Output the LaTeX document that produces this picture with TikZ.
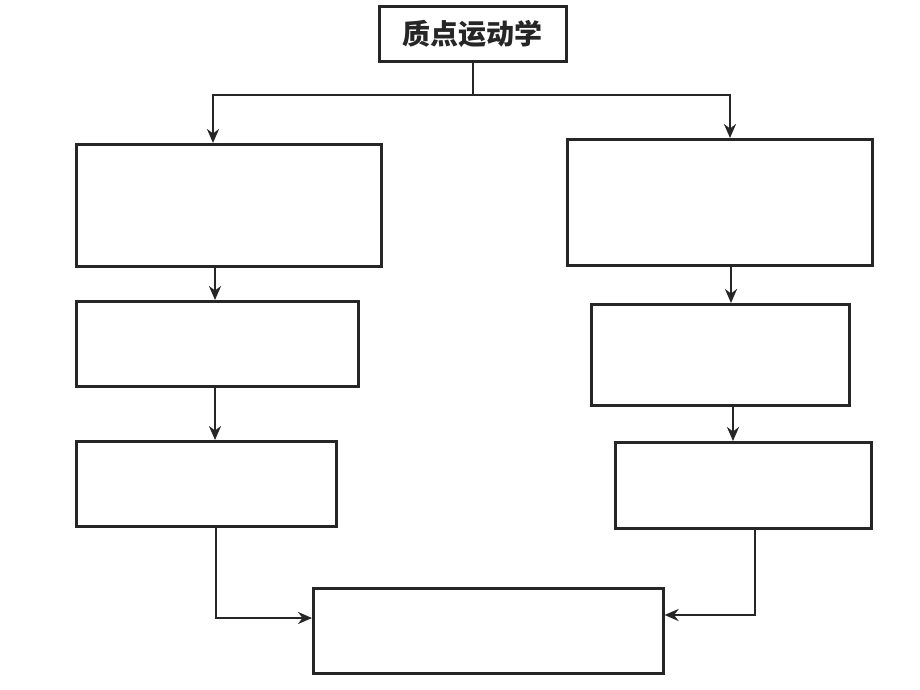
\documentclass[tikz,border=0pt]{standalone}
\usepackage{fontspec}
\newfontfamily\cjk{Noto Sans CJK SC}
\usetikzlibrary{arrows.meta}
\definecolor{ink}{HTML}{262626}
\begin{document}
\begin{tikzpicture}[x=1pt,y=-1pt,
  box/.style={draw=ink, line width=2.6pt, rectangle, inner sep=0pt, anchor=north west},
  ln/.style={draw=ink, line width=2.6pt},
  arr/.style={draw=ink, line width=2.6pt, -{Stealth[length=14pt,width=12pt]}}]
\fill[white] (0,0) rectangle (920,690);
\useasboundingbox (0,0) rectangle (920,690);
% boxes
\node[box, minimum width=187pt, minimum height=55pt] (T) at (378,5) {};
\node[font=\cjk\bfseries\fontsize{28}{32}\selectfont, text=ink] (Tt) at (T.center) {质点运动学};
\node[box, minimum width=305pt, minimum height=122pt] (L1) at (75,143) {};
\node[box, minimum width=282pt, minimum height=85pt]  (L2) at (75,300) {};
\node[box, minimum width=260pt, minimum height=85pt]  (L3) at (75,440) {};
\node[box, minimum width=305pt, minimum height=126pt] (R1) at (566,138) {};
\node[box, minimum width=258pt, minimum height=101pt] (R2) at (590,303) {};
\node[box, minimum width=256pt, minimum height=86pt]  (R3) at (614,441) {};
\node[box, minimum width=350pt, minimum height=85pt]  (B)  at (312,587) {};
% routing coordinates
\coordinate (cl) at (213,95);
\coordinate (cr) at (730,95);
\coordinate (a2) at (215,0);
\coordinate (a3) at (216,0);
\coordinate (b2) at (731,0);
\coordinate (b3) at (733,0);
\coordinate (b4) at (755,0);
\coordinate (yl) at (0,618);
\coordinate (yr) at (0,615);
% connectors
\draw[ln] (T.south) -- (T.south |- cl);
\draw[arr] (T.south |- cl) -- (cl) -- (cl |- L1.north);
\draw[arr] (T.south |- cr) -- (cr) -- (cr |- R1.north);
\draw[arr] (L1.south -| a2) -- (L2.north -| a2);
\draw[arr] (L2.south -| a2) -- (L3.north -| a2);
\draw[arr] (L3.south -| a3) -- (a3 |- yl) -- (B.west |- yl);
\draw[arr] (R1.south -| b2) -- (R2.north -| b2);
\draw[arr] (R2.south -| b3) -- (R3.north -| b3);
\draw[arr] (R3.south -| b4) -- (b4 |- yr) -- (B.east |- yr);
\end{tikzpicture}
\end{document}
